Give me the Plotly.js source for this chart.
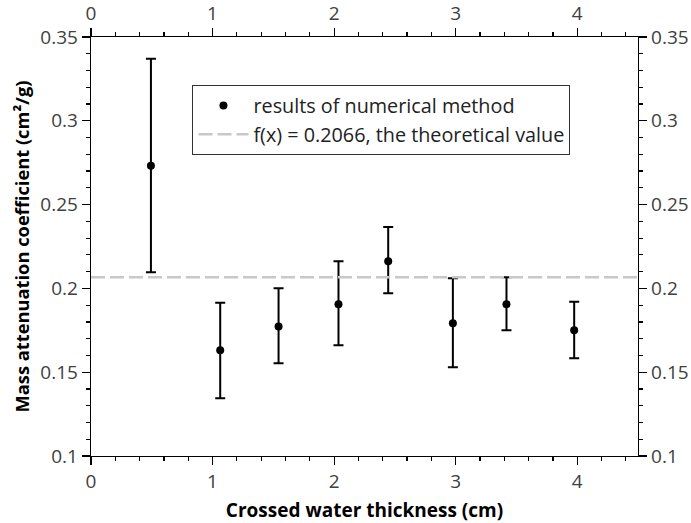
<!DOCTYPE html>
<html>
<head>
<meta charset="utf-8">
<script src="https://cdn.plot.ly/plotly-3.0.1.min.js"></script>
<style>html,body{margin:0;padding:0;background:#fff;}#chart{width:691px;height:523px;}</style>
</head>
<body>
<div id="chart"></div>
<script>
// Data
const thickness = [0.493, 1.063, 1.543, 2.036, 2.445, 2.977, 3.418, 3.975];
const coefficient = [0.2732, 0.1631, 0.1772, 0.1906, 0.2162, 0.1792, 0.1906, 0.1750];
const errUpper = [0.3370, 0.1915, 0.2001, 0.2162, 0.2367, 0.2061, 0.2067, 0.1921];
const errLower = [0.2097, 0.1344, 0.1553, 0.1661, 0.1971, 0.1529, 0.1750, 0.1583];
const theoreticalValue = 0.2066;
const xDomain = [0, 4.5];
const yDomain = [0.1, 0.35];
const xTickVals = [0, 1, 2, 3, 4];
const yTickVals = [0.1, 0.15, 0.2, 0.25, 0.3, 0.35];
const yTickText = ['0.1', '0.15', '0.2', '0.25', '0.3', '0.35'];

const plus = errUpper.map((u, i) => u - coefficient[i]);
const minus = errLower.map((l, i) => coefficient[i] - l);

const FONT = 'Open Sans, Noto Sans, DejaVu Sans, sans-serif';

const traces = [
  {
    x: thickness, y: coefficient, type: 'scatter', mode: 'markers',
    name: 'results of numerical method',
    marker: {color: '#000', size: 8},
    error_y: {type: 'data', symmetric: false, array: plus, arrayminus: minus,
              color: '#000', thickness: 2, width: 5}
  },
  {
    x: xDomain, y: xDomain.map(() => theoreticalValue), type: 'scatter', mode: 'lines',
    name: 'f(x) = 0.2066, the theoretical value',
    line: {color: '#c8c8c8', width: 2.5, dash: '14px,5px'}
  },
  {x: [], y: [], xaxis: 'x2', yaxis: 'y2', showlegend: false, type: 'scatter'}
];

const tickFont = {family: FONT, size: 19, color: '#404040'};
const common = {
  showgrid: false, zeroline: false, showline: true, linecolor: '#000', linewidth: 1.3,
  ticks: 'outside', ticklen: 8, tickwidth: 1.2, tickcolor: '#000', tickfont: tickFont
};

const layout = {
  width: 691, height: 523,
  margin: {l: 91, r: 53, t: 37, b: 67},
  paper_bgcolor: '#fff', plot_bgcolor: '#fff',
  font: {family: FONT},
  showlegend: true,
  legend: {x: 0.1855, y: 0.885, xanchor: 'left', yanchor: 'top',
           bgcolor: '#fff', bordercolor: '#333', borderwidth: 1, itemwidth: 50,
           font: {family: FONT, size: 19.8, color: '#222'}, tracegroupgap: 0},
  xaxis: Object.assign({}, common, {
    range: xDomain, tickvals: xTickVals, ticktext: xTickVals.map(String),
    minor: {dtick: 0.2, ticks: 'outside', ticklen: 4, tickcolor: '#000', tickwidth: 1.2},
    title: {text: '<b>Crossed water thickness (cm)</b>', font: {family: FONT, size: 19, color: '#000'}, standoff: 11}
  }),
  yaxis: Object.assign({}, common, {
    range: yDomain, tickvals: yTickVals, ticktext: yTickText,
    minor: {dtick: 0.01, ticks: 'outside', ticklen: 4, tickcolor: '#000', tickwidth: 1.2},
    title: {text: '<b>Mass attenuation coefficient (cm²/g)</b>', font: {family: FONT, size: 18.3, color: '#000'}, standoff: 6}
  }),
  xaxis2: Object.assign({}, common, {
    overlaying: 'x', side: 'top', anchor: 'y2', range: xDomain,
    tickvals: xTickVals, ticktext: xTickVals.map(String),
    minor: {dtick: 0.2, ticks: 'outside', ticklen: 4, tickcolor: '#000', tickwidth: 1.2}
  }),
  yaxis2: Object.assign({}, common, {
    overlaying: 'y', side: 'right', anchor: 'x2', range: yDomain,
    tickvals: yTickVals, ticktext: yTickText,
    minor: {dtick: 0.01, ticks: 'outside', ticklen: 4, tickcolor: '#000', tickwidth: 1.2}
  })
};

Plotly.newPlot('chart', traces, layout, {displayModeBar: false, staticPlot: true});
</script>
</body>
</html>
